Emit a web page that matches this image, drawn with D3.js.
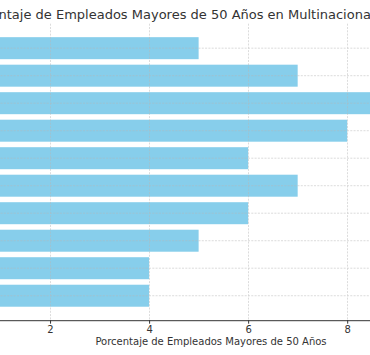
<!DOCTYPE html>
<html>
<head>
<meta charset="utf-8">
<script src="https://cdn.jsdelivr.net/npm/d3@7"></script>
<style>
  html, body { margin: 0; padding: 0; background: #fff; overflow: hidden; }
  svg { display: block; font-family: "DejaVu Sans", sans-serif; }
</style>
</head>
<body>
<svg id="chart" width="370" height="355"></svg>
<script>
// Categories listed top to bottom (their names lie outside the visible crop)
const categories = ["Empresa A", "Empresa B", "Empresa C", "Empresa D", "Empresa E",
                    "Empresa F", "Empresa G", "Empresa H", "Empresa I", "Empresa J"];
const values = [5, 7, 9, 8, 6, 7, 6, 5, 4, 4];
const xTicks = [2, 4, 6, 8];
const gridTicks = [0, 2, 4, 6, 8];
const titleText = "Porcentaje de Empleados Mayores de 50 Años en Multinacionales";
const xLabelText = "Porcentaje de Empleados Mayores de 50 Años";

const svg = d3.select("#chart");
const pLeft = -49, pRight = 419, pTop = 23.7, pBottom = 320.2;

const xMax = d3.max(values) * 1.05;
const x = d3.scaleLinear().domain([0, xMax]).range([pLeft, pRight]);
const y = d3.scaleBand().domain(categories).range([pTop, pBottom])
  .paddingInner(0.2).paddingOuter(0.49);

// bars
svg.append("g").selectAll("rect").data(values).join("rect")
  .attr("x", x(0))
  .attr("y", (d, i) => y(categories[i]))
  .attr("width", d => x(d) - x(0))
  .attr("height", y.bandwidth())
  .attr("fill", "#87CEEB");

// grid (drawn over bars, as matplotlib does)
const grid = svg.append("g")
  .attr("stroke", "#b8b8b8").attr("stroke-width", 0.8)
  .attr("stroke-dasharray", "2,1.3").attr("opacity", 0.6);
grid.selectAll("line.v").data(gridTicks).join("line").attr("class", "v")
  .attr("x1", d => Math.round(x(d)) + 0.5).attr("x2", d => Math.round(x(d)) + 0.5)
  .attr("y1", pTop).attr("y2", pBottom);
grid.selectAll("line.h").data(categories).join("line").attr("class", "h")
  .attr("x1", pLeft).attr("x2", pRight)
  .attr("y1", d => y(d) + y.bandwidth() / 2).attr("y2", d => y(d) + y.bandwidth() / 2);

// x axis
const xAxis = d3.axisBottom(x).tickValues(xTicks).tickSize(3.5).tickPadding(2.5)
  .tickFormat(d3.format("d"));
const gx = svg.append("g").attr("transform", `translate(0,${pBottom})`).call(xAxis);
gx.select(".domain").attr("stroke", "#333").attr("stroke-width", 1);
gx.selectAll(".tick line").attr("stroke", "#333");
gx.selectAll(".tick text").attr("fill", "#333").attr("font-size", 10)
  .attr("font-family", "DejaVu Sans");

// x label
svg.append("text").attr("x", 211).attr("y", 344.7).attr("text-anchor", "middle")
  .attr("font-size", 10).attr("fill", "#333").text(xLabelText);

// title (left part cropped as in the reference)
svg.append("text").attr("x", -37).attr("y", 19).attr("text-anchor", "start")
  .attr("font-size", 13).attr("fill", "#333").text(titleText);
</script>
</body>
</html>
